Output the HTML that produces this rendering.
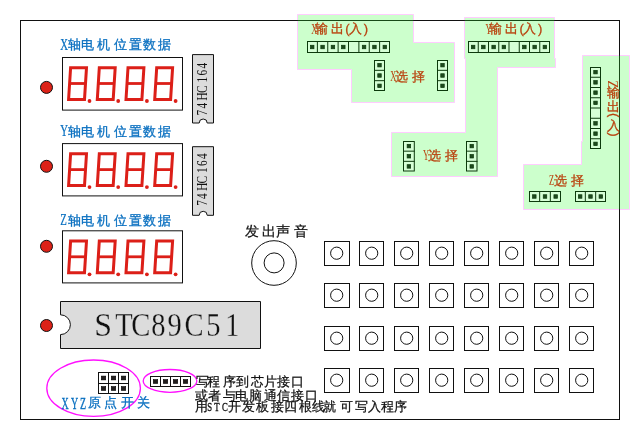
<!DOCTYPE html>
<html><head><meta charset="utf-8"><style>
html,body{margin:0;padding:0;background:#fff;width:640px;height:440px;overflow:hidden}
svg{display:block}
text{font-family:"Liberation Sans",sans-serif}
.ser{font-family:"Liberation Serif",serif}
.mul{mix-blend-mode:multiply}
</style></head><body>
<svg width="640" height="440" viewBox="0 0 640 440">

<rect x="20.5" y="20.5" width="599" height="399" fill="none" stroke="#111" stroke-width="1"/>
<g class="mul">
<polygon points="297.5,14.5 413.5,14.5 413.5,42.5 454.5,42.5 454.5,102.5 351.5,102.5 351.5,69.5 297.5,69.5" fill="#ccffcc" stroke="#ffccff" stroke-width="1"/>
<polygon points="464.5,17.5 554.5,17.5 554.5,58.5 555.5,58.5 555.5,67.5 497.5,67.5 497.5,176.5 391.5,176.5 391.5,132.5 465.5,132.5 465.5,58.5 464.5,58.5" fill="#ccffcc" stroke="#ffccff" stroke-width="1"/>
<polygon points="582.5,55.5 629.5,55.5 629.5,209.5 523.5,209.5 523.5,164.5 581.5,164.5 581.5,141.5 582.5,141.5" fill="#ccffcc" stroke="#ffccff" stroke-width="1"/>
</g>
<path d="M297.5,20.5 H413.5 M464.5,20.5 H554.5 M619.5,55.5 V209.5" stroke="#174a17" stroke-width="1" fill="none"/>
<rect x="307.50" y="41.50" width="82.00" height="11.00" fill="#d6ffd6" stroke="#0c3a0c" stroke-width="1"/>
<line x1="317.38" y1="41" x2="317.38" y2="53" stroke="#0c3a0c" stroke-width="1"/>
<line x1="327.75" y1="41" x2="327.75" y2="53" stroke="#0c3a0c" stroke-width="1"/>
<line x1="338.12" y1="41" x2="338.12" y2="53" stroke="#0c3a0c" stroke-width="1"/>
<line x1="348.50" y1="41" x2="348.50" y2="53" stroke="#0c3a0c" stroke-width="1"/>
<line x1="358.88" y1="41" x2="358.88" y2="53" stroke="#0c3a0c" stroke-width="1"/>
<line x1="369.25" y1="41" x2="369.25" y2="53" stroke="#0c3a0c" stroke-width="1"/>
<line x1="379.62" y1="41" x2="379.62" y2="53" stroke="#0c3a0c" stroke-width="1"/>
<rect x="310.44" y="45.25" width="3.5" height="3.5" fill="#1d4a1d" stroke="#0c3a0c" stroke-width="0.7"/>
<rect x="320.81" y="45.25" width="3.5" height="3.5" fill="#1d4a1d" stroke="#0c3a0c" stroke-width="0.7"/>
<rect x="331.19" y="45.25" width="3.5" height="3.5" fill="#1d4a1d" stroke="#0c3a0c" stroke-width="0.7"/>
<rect x="341.56" y="45.25" width="3.5" height="3.5" fill="#1d4a1d" stroke="#0c3a0c" stroke-width="0.7"/>
<rect x="362.31" y="45.25" width="3.5" height="3.5" fill="#1d4a1d" stroke="#0c3a0c" stroke-width="0.7"/>
<rect x="372.69" y="45.25" width="3.5" height="3.5" fill="#1d4a1d" stroke="#0c3a0c" stroke-width="0.7"/>
<rect x="383.06" y="45.25" width="3.5" height="3.5" fill="#1d4a1d" stroke="#0c3a0c" stroke-width="0.7"/>
<rect x="468.50" y="41.50" width="81.00" height="11.00" fill="#d6ffd6" stroke="#0c3a0c" stroke-width="1"/>
<line x1="478.25" y1="41" x2="478.25" y2="53" stroke="#0c3a0c" stroke-width="1"/>
<line x1="488.50" y1="41" x2="488.50" y2="53" stroke="#0c3a0c" stroke-width="1"/>
<line x1="498.75" y1="41" x2="498.75" y2="53" stroke="#0c3a0c" stroke-width="1"/>
<line x1="509.00" y1="41" x2="509.00" y2="53" stroke="#0c3a0c" stroke-width="1"/>
<line x1="519.25" y1="41" x2="519.25" y2="53" stroke="#0c3a0c" stroke-width="1"/>
<line x1="529.50" y1="41" x2="529.50" y2="53" stroke="#0c3a0c" stroke-width="1"/>
<line x1="539.75" y1="41" x2="539.75" y2="53" stroke="#0c3a0c" stroke-width="1"/>
<rect x="471.38" y="45.25" width="3.5" height="3.5" fill="#1d4a1d" stroke="#0c3a0c" stroke-width="0.7"/>
<rect x="481.62" y="45.25" width="3.5" height="3.5" fill="#1d4a1d" stroke="#0c3a0c" stroke-width="0.7"/>
<rect x="491.88" y="45.25" width="3.5" height="3.5" fill="#1d4a1d" stroke="#0c3a0c" stroke-width="0.7"/>
<rect x="502.12" y="45.25" width="3.5" height="3.5" fill="#1d4a1d" stroke="#0c3a0c" stroke-width="0.7"/>
<rect x="522.62" y="45.25" width="3.5" height="3.5" fill="#1d4a1d" stroke="#0c3a0c" stroke-width="0.7"/>
<rect x="532.88" y="45.25" width="3.5" height="3.5" fill="#1d4a1d" stroke="#0c3a0c" stroke-width="0.7"/>
<rect x="543.12" y="45.25" width="3.5" height="3.5" fill="#1d4a1d" stroke="#0c3a0c" stroke-width="0.7"/>
<rect x="374.50" y="60.50" width="10.00" height="30.00" fill="#d6ffd6" stroke="#0c3a0c" stroke-width="1"/>
<line x1="374" y1="70.33" x2="385" y2="70.33" stroke="#0c3a0c" stroke-width="1"/>
<line x1="374" y1="80.67" x2="385" y2="80.67" stroke="#0c3a0c" stroke-width="1"/>
<rect x="377.75" y="63.42" width="3.5" height="3.5" fill="#1d4a1d" stroke="#0c3a0c" stroke-width="0.7"/>
<rect x="377.75" y="73.75" width="3.5" height="3.5" fill="#1d4a1d" stroke="#0c3a0c" stroke-width="0.7"/>
<rect x="377.75" y="84.08" width="3.5" height="3.5" fill="#1d4a1d" stroke="#0c3a0c" stroke-width="0.7"/>
<rect x="437.50" y="60.50" width="10.00" height="30.00" fill="#d6ffd6" stroke="#0c3a0c" stroke-width="1"/>
<line x1="437" y1="70.33" x2="448" y2="70.33" stroke="#0c3a0c" stroke-width="1"/>
<line x1="437" y1="80.67" x2="448" y2="80.67" stroke="#0c3a0c" stroke-width="1"/>
<rect x="440.75" y="63.42" width="3.5" height="3.5" fill="#1d4a1d" stroke="#0c3a0c" stroke-width="0.7"/>
<rect x="440.75" y="73.75" width="3.5" height="3.5" fill="#1d4a1d" stroke="#0c3a0c" stroke-width="0.7"/>
<rect x="440.75" y="84.08" width="3.5" height="3.5" fill="#1d4a1d" stroke="#0c3a0c" stroke-width="0.7"/>
<rect x="403.50" y="141.50" width="10.80" height="29.50" fill="#d6ffd6" stroke="#0c3a0c" stroke-width="1"/>
<line x1="403" y1="151.17" x2="414.8" y2="151.17" stroke="#0c3a0c" stroke-width="1"/>
<line x1="403" y1="161.33" x2="414.8" y2="161.33" stroke="#0c3a0c" stroke-width="1"/>
<rect x="407.15" y="144.33" width="3.5" height="3.5" fill="#1d4a1d" stroke="#0c3a0c" stroke-width="0.7"/>
<rect x="407.15" y="154.50" width="3.5" height="3.5" fill="#1d4a1d" stroke="#0c3a0c" stroke-width="0.7"/>
<rect x="407.15" y="164.67" width="3.5" height="3.5" fill="#1d4a1d" stroke="#0c3a0c" stroke-width="0.7"/>
<rect x="466.50" y="141.50" width="10.50" height="29.50" fill="#d6ffd6" stroke="#0c3a0c" stroke-width="1"/>
<line x1="466" y1="151.17" x2="477.5" y2="151.17" stroke="#0c3a0c" stroke-width="1"/>
<line x1="466" y1="161.33" x2="477.5" y2="161.33" stroke="#0c3a0c" stroke-width="1"/>
<rect x="470.00" y="144.33" width="3.5" height="3.5" fill="#1d4a1d" stroke="#0c3a0c" stroke-width="0.7"/>
<rect x="470.00" y="154.50" width="3.5" height="3.5" fill="#1d4a1d" stroke="#0c3a0c" stroke-width="0.7"/>
<rect x="470.00" y="164.67" width="3.5" height="3.5" fill="#1d4a1d" stroke="#0c3a0c" stroke-width="0.7"/>
<rect x="590.50" y="67.50" width="10.00" height="81.00" fill="#d6ffd6" stroke="#0c3a0c" stroke-width="1"/>
<line x1="590" y1="77.25" x2="601" y2="77.25" stroke="#0c3a0c" stroke-width="1"/>
<line x1="590" y1="87.50" x2="601" y2="87.50" stroke="#0c3a0c" stroke-width="1"/>
<line x1="590" y1="97.75" x2="601" y2="97.75" stroke="#0c3a0c" stroke-width="1"/>
<line x1="590" y1="108.00" x2="601" y2="108.00" stroke="#0c3a0c" stroke-width="1"/>
<line x1="590" y1="118.25" x2="601" y2="118.25" stroke="#0c3a0c" stroke-width="1"/>
<line x1="590" y1="128.50" x2="601" y2="128.50" stroke="#0c3a0c" stroke-width="1"/>
<line x1="590" y1="138.75" x2="601" y2="138.75" stroke="#0c3a0c" stroke-width="1"/>
<rect x="593.75" y="70.38" width="3.5" height="3.5" fill="#1d4a1d" stroke="#0c3a0c" stroke-width="0.7"/>
<rect x="593.75" y="80.62" width="3.5" height="3.5" fill="#1d4a1d" stroke="#0c3a0c" stroke-width="0.7"/>
<rect x="593.75" y="90.88" width="3.5" height="3.5" fill="#1d4a1d" stroke="#0c3a0c" stroke-width="0.7"/>
<rect x="593.75" y="101.12" width="3.5" height="3.5" fill="#1d4a1d" stroke="#0c3a0c" stroke-width="0.7"/>
<rect x="593.75" y="121.62" width="3.5" height="3.5" fill="#1d4a1d" stroke="#0c3a0c" stroke-width="0.7"/>
<rect x="593.75" y="131.88" width="3.5" height="3.5" fill="#1d4a1d" stroke="#0c3a0c" stroke-width="0.7"/>
<rect x="593.75" y="142.12" width="3.5" height="3.5" fill="#1d4a1d" stroke="#0c3a0c" stroke-width="0.7"/>
<rect x="529.50" y="191.50" width="31.00" height="10.00" fill="#d6ffd6" stroke="#0c3a0c" stroke-width="1"/>
<line x1="539.67" y1="191" x2="539.67" y2="202" stroke="#0c3a0c" stroke-width="1"/>
<line x1="550.33" y1="191" x2="550.33" y2="202" stroke="#0c3a0c" stroke-width="1"/>
<rect x="532.58" y="194.75" width="3.5" height="3.5" fill="#1d4a1d" stroke="#0c3a0c" stroke-width="0.7"/>
<rect x="543.25" y="194.75" width="3.5" height="3.5" fill="#1d4a1d" stroke="#0c3a0c" stroke-width="0.7"/>
<rect x="553.92" y="194.75" width="3.5" height="3.5" fill="#1d4a1d" stroke="#0c3a0c" stroke-width="0.7"/>
<rect x="575.50" y="191.50" width="30.00" height="10.00" fill="#d6ffd6" stroke="#0c3a0c" stroke-width="1"/>
<line x1="585.33" y1="191" x2="585.33" y2="202" stroke="#0c3a0c" stroke-width="1"/>
<line x1="595.67" y1="191" x2="595.67" y2="202" stroke="#0c3a0c" stroke-width="1"/>
<rect x="578.42" y="194.75" width="3.5" height="3.5" fill="#1d4a1d" stroke="#0c3a0c" stroke-width="0.7"/>
<rect x="588.75" y="194.75" width="3.5" height="3.5" fill="#1d4a1d" stroke="#0c3a0c" stroke-width="0.7"/>
<rect x="599.08" y="194.75" width="3.5" height="3.5" fill="#1d4a1d" stroke="#0c3a0c" stroke-width="0.7"/>
<text x="314.80 331.00" y="33" fill="#b9420e" font-size="13" stroke="#b9420e" stroke-width="0.3">输出</text><text x="345.20" y="33" fill="#b9420e" font-size="13" stroke="#b9420e" stroke-width="0.3">(</text><text x="349.20" y="33" fill="#b9420e" font-size="13" stroke="#b9420e" stroke-width="0.3">入</text><text x="363.80" y="33" fill="#b9420e" font-size="13" stroke="#b9420e" stroke-width="0.3">)</text><text x="311.40" y="33" fill="#b9420e" font-size="13" stroke="#b9420e" stroke-width="0.3"></text><text transform="translate(311.20,33.5) scale(0.55,1)" x="0" y="0" class="ser" font-size="15.5" fill="#b9420e" >X</text>
<text x="489.00 505.20" y="33" fill="#b9420e" font-size="13" stroke="#b9420e" stroke-width="0.3">输出</text><text x="519.40" y="33" fill="#b9420e" font-size="13" stroke="#b9420e" stroke-width="0.3">(</text><text x="523.40" y="33" fill="#b9420e" font-size="13" stroke="#b9420e" stroke-width="0.3">入</text><text x="538.00" y="33" fill="#b9420e" font-size="13" stroke="#b9420e" stroke-width="0.3">)</text><text x="485.60" y="33" fill="#b9420e" font-size="13" stroke="#b9420e" stroke-width="0.3"></text><text transform="translate(485.40,33.5) scale(0.55,1)" x="0" y="0" class="ser" font-size="15.5" fill="#b9420e" >Y</text>
<text x="395.20 412.00" y="80.5" fill="#b9420e" font-size="13" stroke="#b9420e" stroke-width="0.3">选择</text><text transform="translate(390.20,80.5) scale(0.55,1)" x="0" y="0" class="ser" font-size="15.5" fill="#b9420e" >X</text>
<text x="427.90 444.70" y="160" fill="#b9420e" font-size="13" stroke="#b9420e" stroke-width="0.3">选择</text><text transform="translate(422.90,160) scale(0.55,1)" x="0" y="0" class="ser" font-size="15.5" fill="#b9420e" >Y</text>
<text x="553.90 570.70" y="184.5" fill="#b9420e" font-size="13" stroke="#b9420e" stroke-width="0.3">选择</text><text transform="translate(548.90,184.5) scale(0.55,1)" x="0" y="0" class="ser" font-size="15.5" fill="#b9420e" >Z</text>
<text x="606.50" y="97.2" fill="#b9420e" font-size="13" stroke="#b9420e" stroke-width="0.3">输</text><text x="606.50" y="110.5" fill="#b9420e" font-size="13" stroke="#b9420e" stroke-width="0.3">出</text><text x="606.50" y="129.8" fill="#b9420e" font-size="13" stroke="#b9420e" stroke-width="0.3">入</text>
<g transform="translate(608.2,81) rotate(90)"><text transform="translate(-0.50,0) scale(0.85,1)" x="0" y="0" class="ser" font-size="15" fill="#b9420e" >Z</text></g>
<g transform="translate(609.6,113.8) rotate(90)"><text x="-0.80" y="0" fill="#b9420e" font-size="13" stroke="#b9420e" stroke-width="0.3">(</text></g>
<g transform="translate(609.6,133) rotate(90)"><text x="-0.80" y="0" fill="#b9420e" font-size="13" stroke="#b9420e" stroke-width="0.3">)</text></g>
<text transform="translate(60.20,49.599999999999994) scale(0.65,1)" x="0" y="0" class="ser" font-size="16.6" fill="#0a70c0" stroke="#0a70c0" stroke-width="0.25">X</text><text x="67.80 81.20 96.90 114.10 129.40 142.70 158.40" y="49.3" fill="#0a70c0" font-size="13" stroke="#0a70c0" stroke-width="0.3">轴电机位置数据</text>
<text transform="translate(60.20,135.8) scale(0.65,1)" x="0" y="0" class="ser" font-size="16.6" fill="#0a70c0" stroke="#0a70c0" stroke-width="0.25">Y</text><text x="67.80 81.20 96.90 114.10 129.40 142.70 158.40" y="135.5" fill="#0a70c0" font-size="13" stroke="#0a70c0" stroke-width="0.3">轴电机位置数据</text>
<text transform="translate(60.20,224.8) scale(0.65,1)" x="0" y="0" class="ser" font-size="16.6" fill="#0a70c0" stroke="#0a70c0" stroke-width="0.25">Z</text><text x="67.80 81.20 96.90 114.10 129.40 142.70 158.40" y="224.5" fill="#0a70c0" font-size="13" stroke="#0a70c0" stroke-width="0.3">轴电机位置数据</text>
<rect x="62.5" y="57.5" width="120" height="52.6" fill="#fff" stroke="#111" stroke-width="1"/>
<polygon points="70.60,67.70 86.50,67.70 84.50,99.40 68.60,99.40" fill="none" stroke="#dc1f18" stroke-width="3"/><line x1="69.10" y1="83.50" x2="85.70" y2="83.50" stroke="#dc1f18" stroke-width="2.8"/><circle cx="89.50" cy="101.00" r="1.9" fill="#dc1f18"/>
<polygon points="99.30,67.70 115.20,67.70 113.20,99.40 97.30,99.40" fill="none" stroke="#dc1f18" stroke-width="3"/><line x1="97.80" y1="83.50" x2="114.40" y2="83.50" stroke="#dc1f18" stroke-width="2.8"/><circle cx="118.20" cy="101.00" r="1.9" fill="#dc1f18"/>
<polygon points="128.00,67.70 143.90,67.70 141.90,99.40 126.00,99.40" fill="none" stroke="#dc1f18" stroke-width="3"/><line x1="126.50" y1="83.50" x2="143.10" y2="83.50" stroke="#dc1f18" stroke-width="2.8"/><circle cx="146.90" cy="101.00" r="1.9" fill="#dc1f18"/>
<polygon points="156.70,67.70 172.60,67.70 170.60,99.40 154.70,99.40" fill="none" stroke="#dc1f18" stroke-width="3"/><line x1="155.20" y1="83.50" x2="171.80" y2="83.50" stroke="#dc1f18" stroke-width="2.8"/><circle cx="175.60" cy="101.00" r="1.9" fill="#dc1f18"/>
<rect x="62.5" y="143.6" width="120" height="52.3" fill="#fff" stroke="#111" stroke-width="1"/>
<polygon points="70.60,153.80 86.50,153.80 84.50,185.50 68.60,185.50" fill="none" stroke="#dc1f18" stroke-width="3"/><line x1="69.10" y1="169.60" x2="85.70" y2="169.60" stroke="#dc1f18" stroke-width="2.8"/><circle cx="89.50" cy="187.10" r="1.9" fill="#dc1f18"/>
<polygon points="99.30,153.80 115.20,153.80 113.20,185.50 97.30,185.50" fill="none" stroke="#dc1f18" stroke-width="3"/><line x1="97.80" y1="169.60" x2="114.40" y2="169.60" stroke="#dc1f18" stroke-width="2.8"/><circle cx="118.20" cy="187.10" r="1.9" fill="#dc1f18"/>
<polygon points="128.00,153.80 143.90,153.80 141.90,185.50 126.00,185.50" fill="none" stroke="#dc1f18" stroke-width="3"/><line x1="126.50" y1="169.60" x2="143.10" y2="169.60" stroke="#dc1f18" stroke-width="2.8"/><circle cx="146.90" cy="187.10" r="1.9" fill="#dc1f18"/>
<polygon points="156.70,153.80 172.60,153.80 170.60,185.50 154.70,185.50" fill="none" stroke="#dc1f18" stroke-width="3"/><line x1="155.20" y1="169.60" x2="171.80" y2="169.60" stroke="#dc1f18" stroke-width="2.8"/><circle cx="175.60" cy="187.10" r="1.9" fill="#dc1f18"/>
<rect x="62.5" y="230.8" width="120" height="52.1" fill="#fff" stroke="#111" stroke-width="1"/>
<polygon points="70.60,241.00 86.50,241.00 84.50,272.70 68.60,272.70" fill="none" stroke="#dc1f18" stroke-width="3"/><line x1="69.10" y1="256.80" x2="85.70" y2="256.80" stroke="#dc1f18" stroke-width="2.8"/><circle cx="89.50" cy="274.30" r="1.9" fill="#dc1f18"/>
<polygon points="99.30,241.00 115.20,241.00 113.20,272.70 97.30,272.70" fill="none" stroke="#dc1f18" stroke-width="3"/><line x1="97.80" y1="256.80" x2="114.40" y2="256.80" stroke="#dc1f18" stroke-width="2.8"/><circle cx="118.20" cy="274.30" r="1.9" fill="#dc1f18"/>
<polygon points="128.00,241.00 143.90,241.00 141.90,272.70 126.00,272.70" fill="none" stroke="#dc1f18" stroke-width="3"/><line x1="126.50" y1="256.80" x2="143.10" y2="256.80" stroke="#dc1f18" stroke-width="2.8"/><circle cx="146.90" cy="274.30" r="1.9" fill="#dc1f18"/>
<polygon points="156.70,241.00 172.60,241.00 170.60,272.70 154.70,272.70" fill="none" stroke="#dc1f18" stroke-width="3"/><line x1="155.20" y1="256.80" x2="171.80" y2="256.80" stroke="#dc1f18" stroke-width="2.8"/><circle cx="175.60" cy="274.30" r="1.9" fill="#dc1f18"/>
<circle cx="46.5" cy="87.4" r="6" fill="#dc2218" stroke="#111" stroke-width="1"/>
<circle cx="46.5" cy="166.3" r="6" fill="#dc2218" stroke="#111" stroke-width="1"/>
<circle cx="46.5" cy="246.3" r="6" fill="#dc2218" stroke="#111" stroke-width="1"/>
<circle cx="46.5" cy="325.5" r="6" fill="#dc2218" stroke="#111" stroke-width="1"/>
<path d="M192.5,54.6 H213.5 V123.0 H207.2 A4,4 0 0 0 199.2,123.0 H192.5 Z" fill="#dcdcdc" stroke="#111" stroke-width="1"/>
<g transform="translate(206.8,114.8) rotate(-90)"><text transform="translate(-0.60,0) scale(0.8,1)" x="0" y="0" class="ser" font-size="14.2" fill="#111">7</text><text transform="translate(6.20,0) scale(0.8,1)" x="0" y="0" class="ser" font-size="14.2" fill="#111">4</text><text transform="translate(14.40,0) scale(0.8,1)" x="0" y="0" class="ser" font-size="14.2" fill="#111">H</text><text transform="translate(21.70,0) scale(0.8,1)" x="0" y="0" class="ser" font-size="14.2" fill="#111">C</text><text transform="translate(32.30,0) scale(0.8,1)" x="0" y="0" class="ser" font-size="14.2" fill="#111">1</text><text transform="translate(39.30,0) scale(0.8,1)" x="0" y="0" class="ser" font-size="14.2" fill="#111">6</text><text transform="translate(46.20,0) scale(0.8,1)" x="0" y="0" class="ser" font-size="14.2" fill="#111">4</text></g>
<path d="M192.5,146.7 H213.5 V215.3 H207.2 A4,4 0 0 0 199.2,215.3 H192.5 Z" fill="#dcdcdc" stroke="#111" stroke-width="1"/>
<g transform="translate(206.8,205.2) rotate(-90)"><text transform="translate(-0.60,0) scale(0.8,1)" x="0" y="0" class="ser" font-size="14.2" fill="#111">7</text><text transform="translate(6.20,0) scale(0.8,1)" x="0" y="0" class="ser" font-size="14.2" fill="#111">4</text><text transform="translate(14.40,0) scale(0.8,1)" x="0" y="0" class="ser" font-size="14.2" fill="#111">H</text><text transform="translate(21.70,0) scale(0.8,1)" x="0" y="0" class="ser" font-size="14.2" fill="#111">C</text><text transform="translate(32.30,0) scale(0.8,1)" x="0" y="0" class="ser" font-size="14.2" fill="#111">1</text><text transform="translate(39.30,0) scale(0.8,1)" x="0" y="0" class="ser" font-size="14.2" fill="#111">6</text><text transform="translate(46.20,0) scale(0.8,1)" x="0" y="0" class="ser" font-size="14.2" fill="#111">4</text></g>
<path d="M60.5,301.5 H260.5 V348.5 H60.5 V334.6 A9.9,9.9 0 0 0 60.5,314.8 Z" fill="#dcdcdc" stroke="#111" stroke-width="1"/>
<text transform="translate(94.30,336) scale(0.95,1)" x="0" y="0" class="ser" font-size="33.6" fill="#111" stroke="#dcdcdc" stroke-width="0.3">S</text><text transform="translate(115.30,336) scale(0.85,1)" x="0" y="0" class="ser" font-size="33.6" fill="#111" stroke="#dcdcdc" stroke-width="0.3">T</text><text transform="translate(131.30,336) scale(0.85,1)" x="0" y="0" class="ser" font-size="33.6" fill="#111" stroke="#dcdcdc" stroke-width="0.3">C</text><text transform="translate(151.30,336) scale(0.85,1)" x="0" y="0" class="ser" font-size="33.6" fill="#111" stroke="#dcdcdc" stroke-width="0.3">8</text><text transform="translate(167.55,336) scale(0.85,1)" x="0" y="0" class="ser" font-size="33.6" fill="#111" stroke="#dcdcdc" stroke-width="0.3">9</text><text transform="translate(184.40,336) scale(0.85,1)" x="0" y="0" class="ser" font-size="33.6" fill="#111" stroke="#dcdcdc" stroke-width="0.3">C</text><text transform="translate(206.20,336) scale(0.85,1)" x="0" y="0" class="ser" font-size="33.6" fill="#111" stroke="#dcdcdc" stroke-width="0.3">5</text><text transform="translate(225.20,336) scale(0.85,1)" x="0" y="0" class="ser" font-size="33.6" fill="#111" stroke="#dcdcdc" stroke-width="0.3">1</text>
<text x="245.00 262.20 276.00 294.00" y="236.3" fill="#111" font-size="14" stroke="#111" stroke-width="0.25">发出声音</text>
<circle cx="274" cy="263" r="22.3" fill="none" stroke="#111" stroke-width="1"/>
<circle cx="274.1" cy="262.9" r="10" fill="none" stroke="#111" stroke-width="1"/>
<rect x="324.50" y="241.50" width="25" height="24" fill="#fff" stroke="#111" stroke-width="1"/>
<circle cx="336.70" cy="253.20" r="6.1" fill="none" stroke="#111" stroke-width="1"/>
<rect x="359.50" y="241.50" width="24" height="24" fill="#fff" stroke="#111" stroke-width="1"/>
<circle cx="371.70" cy="253.20" r="6.1" fill="none" stroke="#111" stroke-width="1"/>
<rect x="394.50" y="241.50" width="24" height="24" fill="#fff" stroke="#111" stroke-width="1"/>
<circle cx="406.70" cy="253.20" r="6.1" fill="none" stroke="#111" stroke-width="1"/>
<rect x="429.50" y="241.50" width="24" height="24" fill="#fff" stroke="#111" stroke-width="1"/>
<circle cx="441.70" cy="253.20" r="6.1" fill="none" stroke="#111" stroke-width="1"/>
<rect x="464.50" y="241.50" width="24" height="24" fill="#fff" stroke="#111" stroke-width="1"/>
<circle cx="476.70" cy="253.20" r="6.1" fill="none" stroke="#111" stroke-width="1"/>
<rect x="499.50" y="241.50" width="24" height="24" fill="#fff" stroke="#111" stroke-width="1"/>
<circle cx="511.70" cy="253.20" r="6.1" fill="none" stroke="#111" stroke-width="1"/>
<rect x="534.50" y="241.50" width="24" height="24" fill="#fff" stroke="#111" stroke-width="1"/>
<circle cx="546.70" cy="253.20" r="6.1" fill="none" stroke="#111" stroke-width="1"/>
<rect x="569.50" y="241.50" width="24" height="24" fill="#fff" stroke="#111" stroke-width="1"/>
<circle cx="581.70" cy="253.20" r="6.1" fill="none" stroke="#111" stroke-width="1"/>
<rect x="324.50" y="283.50" width="25" height="24" fill="#fff" stroke="#111" stroke-width="1"/>
<circle cx="336.70" cy="295.20" r="6.1" fill="none" stroke="#111" stroke-width="1"/>
<rect x="359.50" y="283.50" width="24" height="24" fill="#fff" stroke="#111" stroke-width="1"/>
<circle cx="371.70" cy="295.20" r="6.1" fill="none" stroke="#111" stroke-width="1"/>
<rect x="394.50" y="283.50" width="24" height="24" fill="#fff" stroke="#111" stroke-width="1"/>
<circle cx="406.70" cy="295.20" r="6.1" fill="none" stroke="#111" stroke-width="1"/>
<rect x="429.50" y="283.50" width="24" height="24" fill="#fff" stroke="#111" stroke-width="1"/>
<circle cx="441.70" cy="295.20" r="6.1" fill="none" stroke="#111" stroke-width="1"/>
<rect x="464.50" y="283.50" width="24" height="24" fill="#fff" stroke="#111" stroke-width="1"/>
<circle cx="476.70" cy="295.20" r="6.1" fill="none" stroke="#111" stroke-width="1"/>
<rect x="499.50" y="283.50" width="24" height="24" fill="#fff" stroke="#111" stroke-width="1"/>
<circle cx="511.70" cy="295.20" r="6.1" fill="none" stroke="#111" stroke-width="1"/>
<rect x="534.50" y="283.50" width="24" height="24" fill="#fff" stroke="#111" stroke-width="1"/>
<circle cx="546.70" cy="295.20" r="6.1" fill="none" stroke="#111" stroke-width="1"/>
<rect x="569.50" y="283.50" width="24" height="24" fill="#fff" stroke="#111" stroke-width="1"/>
<circle cx="581.70" cy="295.20" r="6.1" fill="none" stroke="#111" stroke-width="1"/>
<rect x="324.50" y="326.50" width="25" height="24" fill="#fff" stroke="#111" stroke-width="1"/>
<circle cx="336.70" cy="338.20" r="6.1" fill="none" stroke="#111" stroke-width="1"/>
<rect x="359.50" y="326.50" width="24" height="24" fill="#fff" stroke="#111" stroke-width="1"/>
<circle cx="371.70" cy="338.20" r="6.1" fill="none" stroke="#111" stroke-width="1"/>
<rect x="394.50" y="326.50" width="24" height="24" fill="#fff" stroke="#111" stroke-width="1"/>
<circle cx="406.70" cy="338.20" r="6.1" fill="none" stroke="#111" stroke-width="1"/>
<rect x="429.50" y="326.50" width="24" height="24" fill="#fff" stroke="#111" stroke-width="1"/>
<circle cx="441.70" cy="338.20" r="6.1" fill="none" stroke="#111" stroke-width="1"/>
<rect x="464.50" y="326.50" width="24" height="24" fill="#fff" stroke="#111" stroke-width="1"/>
<circle cx="476.70" cy="338.20" r="6.1" fill="none" stroke="#111" stroke-width="1"/>
<rect x="499.50" y="326.50" width="24" height="24" fill="#fff" stroke="#111" stroke-width="1"/>
<circle cx="511.70" cy="338.20" r="6.1" fill="none" stroke="#111" stroke-width="1"/>
<rect x="534.50" y="326.50" width="24" height="24" fill="#fff" stroke="#111" stroke-width="1"/>
<circle cx="546.70" cy="338.20" r="6.1" fill="none" stroke="#111" stroke-width="1"/>
<rect x="569.50" y="326.50" width="24" height="24" fill="#fff" stroke="#111" stroke-width="1"/>
<circle cx="581.70" cy="338.20" r="6.1" fill="none" stroke="#111" stroke-width="1"/>
<rect x="324.50" y="368.50" width="25" height="24" fill="#fff" stroke="#111" stroke-width="1"/>
<circle cx="336.70" cy="380.20" r="6.1" fill="none" stroke="#111" stroke-width="1"/>
<rect x="359.50" y="368.50" width="24" height="24" fill="#fff" stroke="#111" stroke-width="1"/>
<circle cx="371.70" cy="380.20" r="6.1" fill="none" stroke="#111" stroke-width="1"/>
<rect x="394.50" y="368.50" width="24" height="24" fill="#fff" stroke="#111" stroke-width="1"/>
<circle cx="406.70" cy="380.20" r="6.1" fill="none" stroke="#111" stroke-width="1"/>
<rect x="429.50" y="368.50" width="24" height="24" fill="#fff" stroke="#111" stroke-width="1"/>
<circle cx="441.70" cy="380.20" r="6.1" fill="none" stroke="#111" stroke-width="1"/>
<rect x="464.50" y="368.50" width="24" height="24" fill="#fff" stroke="#111" stroke-width="1"/>
<circle cx="476.70" cy="380.20" r="6.1" fill="none" stroke="#111" stroke-width="1"/>
<rect x="499.50" y="368.50" width="24" height="24" fill="#fff" stroke="#111" stroke-width="1"/>
<circle cx="511.70" cy="380.20" r="6.1" fill="none" stroke="#111" stroke-width="1"/>
<rect x="534.50" y="368.50" width="24" height="24" fill="#fff" stroke="#111" stroke-width="1"/>
<circle cx="546.70" cy="380.20" r="6.1" fill="none" stroke="#111" stroke-width="1"/>
<rect x="569.50" y="368.50" width="24" height="24" fill="#fff" stroke="#111" stroke-width="1"/>
<circle cx="581.70" cy="380.20" r="6.1" fill="none" stroke="#111" stroke-width="1"/>
<ellipse cx="93.6" cy="388.2" rx="46.8" ry="28.2" fill="none" stroke="#ff10ff" stroke-width="1.3"/>
<ellipse cx="170" cy="380.9" rx="26.8" ry="11.4" fill="none" stroke="#ff10ff" stroke-width="1.3"/>
<rect x="98.5" y="372.5" width="30.0" height="21.0" fill="#fff" stroke="#111" stroke-width="1"/>
<line x1="108.5" y1="372.5" x2="108.5" y2="393.5" stroke="#111" stroke-width="1"/>
<line x1="118.5" y1="372.5" x2="118.5" y2="393.5" stroke="#111" stroke-width="1"/>
<line x1="98.5" y1="383.5" x2="128.5" y2="383.5" stroke="#111" stroke-width="1"/>
<rect x="101.30" y="376.10" width="4.4" height="3.8" fill="#231f1f" stroke="#000" stroke-width="0.6"/>
<rect x="101.30" y="386.60" width="4.4" height="3.8" fill="#231f1f" stroke="#000" stroke-width="0.6"/>
<rect x="111.30" y="376.10" width="4.4" height="3.8" fill="#231f1f" stroke="#000" stroke-width="0.6"/>
<rect x="111.30" y="386.60" width="4.4" height="3.8" fill="#231f1f" stroke="#000" stroke-width="0.6"/>
<rect x="121.30" y="376.10" width="4.4" height="3.8" fill="#231f1f" stroke="#000" stroke-width="0.6"/>
<rect x="121.30" y="386.60" width="4.4" height="3.8" fill="#231f1f" stroke="#000" stroke-width="0.6"/>
<rect x="150.5" y="376.5" width="40.0" height="10.0" fill="#fff" stroke="#111" stroke-width="1"/>
<line x1="160.5" y1="376.5" x2="160.5" y2="386.5" stroke="#111" stroke-width="1"/>
<line x1="170.5" y1="376.5" x2="170.5" y2="386.5" stroke="#111" stroke-width="1"/>
<line x1="180.5" y1="376.5" x2="180.5" y2="386.5" stroke="#111" stroke-width="1"/>
<rect x="153.30" y="379.60" width="4.4" height="3.8" fill="#231f1f" stroke="#000" stroke-width="0.6"/>
<rect x="163.30" y="379.60" width="4.4" height="3.8" fill="#231f1f" stroke="#000" stroke-width="0.6"/>
<rect x="173.30" y="379.60" width="4.4" height="3.8" fill="#231f1f" stroke="#000" stroke-width="0.6"/>
<rect x="183.30" y="379.60" width="4.4" height="3.8" fill="#231f1f" stroke="#000" stroke-width="0.6"/>
<text transform="translate(61.40,408.75) scale(0.6,1)" x="0" y="0" class="ser" font-size="16.6" fill="#0a70c0" stroke="#0a70c0" stroke-width="0.35">X</text><text transform="translate(71.00,408.75) scale(0.6,1)" x="0" y="0" class="ser" font-size="16.6" fill="#0a70c0" stroke="#0a70c0" stroke-width="0.35">Y</text><text transform="translate(80.00,408.75) scale(0.6,1)" x="0" y="0" class="ser" font-size="16.6" fill="#0a70c0" stroke="#0a70c0" stroke-width="0.35">Z</text>
<text x="88.40 103.90 121.40 136.90" y="406.8" fill="#0a70c0" font-size="13" stroke="#0a70c0" stroke-width="0.3">原点开关</text>
<text x="196.30 207.30 222.60 236.30 250.65 264.40 276.90 291.20" y="386" fill="#111" font-size="12.5" stroke="#111" stroke-width="0.25">写程序到芯片接口</text>
<text x="194.70 207.80 222.60 235.20 249.40 264.40 277.40 291.30 305.20" y="399.6" fill="#111" font-size="12.5" stroke="#111" stroke-width="0.25">或者与电脑通信接口</text>
<text x="194.70" y="410.8" fill="#111" font-size="12.5" stroke="#111" stroke-width="0.25">用</text><text transform="translate(207.20,411.2) scale(0.7,1)" x="0" y="0" class="ser" font-size="12.4" fill="#111" stroke="#111" stroke-width="0.35">S</text><text transform="translate(214.30,411.2) scale(0.7,1)" x="0" y="0" class="ser" font-size="12.4" fill="#111" stroke="#111" stroke-width="0.35">T</text><text transform="translate(222.10,411.2) scale(0.7,1)" x="0" y="0" class="ser" font-size="12.4" fill="#111" stroke="#111" stroke-width="0.35">C</text>
<text x="228.00 241.70 255.65 271.30 283.80 298.80 311.90 323.15 340.40 354.90 368.15 380.90 394.40" y="410.8" fill="#111" font-size="12.5" stroke="#111" stroke-width="0.25">开发板接四根线就可写入程序</text>
</svg></body></html>
